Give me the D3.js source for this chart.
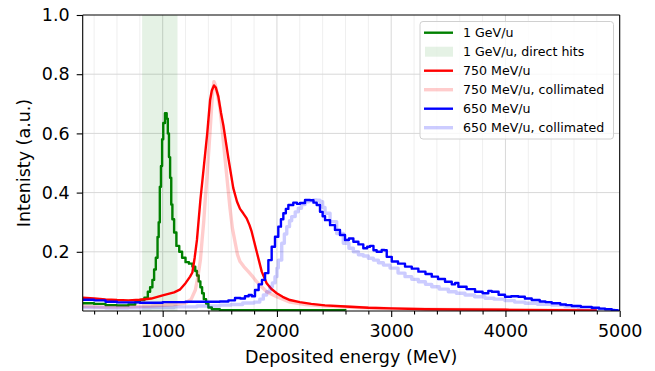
<!DOCTYPE html>
<html>
<head>
<meta charset="utf-8">
<script src="https://cdn.jsdelivr.net/npm/d3@7"></script>
<style>
  html, body { margin: 0; padding: 0; background: #fff; }
  svg { display: block; font-family: "DejaVu Sans", sans-serif; }
</style>
</head>
<body>
<svg id="chart" width="655" height="371"></svg>
<script>
// deposited energy spectra, [energy MeV, intensity a.u.]
const green1GeV = [[300,0.026],[400,0.024],[500,0.02],[600,0.019],[700,0.022],[760,0.03],[800,0.037],[840,0.045],[870,0.065],[890,0.08],[910,0.105],[925,0.14],[940,0.18],[955,0.25],[965,0.3],[975,0.42],[985,0.49],[995,0.58],[1005,0.635],[1020,0.668],[1035,0.65],[1045,0.6],[1055,0.52],[1065,0.45],[1075,0.36],[1085,0.31],[1100,0.265],[1120,0.22],[1145,0.2],[1170,0.18],[1200,0.165],[1230,0.16],[1260,0.15],[1285,0.135],[1300,0.12],[1315,0.1],[1330,0.08],[1345,0.06],[1360,0.04],[1380,0.025],[1400,0.012],[1430,0.006],[1500,0.003],[2600,0.002]];

const red750 = [[300,0.045],[400,0.042],[500,0.039],[600,0.037],[700,0.036],[800,0.038],[900,0.042],[1000,0.053],[1100,0.063],[1150,0.072],[1200,0.094],[1240,0.116],[1260,0.13],[1280,0.18],[1300,0.24],[1330,0.375],[1360,0.487],[1390,0.6],[1415,0.713],[1430,0.745],[1449,0.762],[1465,0.755],[1487,0.725],[1510,0.67],[1531,0.628],[1575,0.516],[1618,0.415],[1650,0.37],[1677,0.345],[1705,0.33],[1735,0.313],[1760,0.29],[1779,0.268],[1823,0.2],[1867,0.133],[1910,0.094],[1950,0.075],[1998,0.06],[2050,0.048],[2114,0.037],[2200,0.03],[2300,0.024],[2420,0.019],[2600,0.015],[2800,0.011],[3000,0.009],[3300,0.006],[3600,0.005],[4000,0.004],[4400,0.003],[4800,0.002]];

const red750Coll = [[300,0.016],[500,0.013],[700,0.014],[900,0.017],[1100,0.022],[1200,0.027],[1250,0.04],[1286,0.071],[1310,0.12],[1330,0.172],[1345,0.24],[1359,0.3],[1375,0.39],[1388,0.454],[1405,0.55],[1417,0.62],[1430,0.7],[1440,0.75],[1449,0.775],[1460,0.765],[1480,0.73],[1502,0.685],[1531,0.572],[1560,0.46],[1589,0.348],[1610,0.28],[1633,0.234],[1655,0.19],[1677,0.167],[1710,0.15],[1750,0.133],[1790,0.115],[1823,0.099],[1870,0.08],[1910,0.065],[1998,0.048],[2114,0.03],[2250,0.022],[2420,0.017],[2700,0.012],[3000,0.008],[3500,0.005],[4000,0.004],[4800,0.002]];

const blue650 = [[300,0.038],[400,0.036],[500,0.031],[600,0.029],[700,0.029],[800,0.028],[900,0.028],[1000,0.03],[1100,0.03],[1200,0.031],[1300,0.031],[1400,0.031],[1500,0.032],[1575,0.036],[1633,0.044],[1680,0.042],[1720,0.05],[1753,0.054],[1780,0.05],[1808,0.071],[1840,0.09],[1869,0.105],[1896,0.128],[1925,0.172],[1954,0.217],[1983,0.251],[2012,0.285],[2035,0.31],[2056,0.33],[2078,0.345],[2100,0.358],[2143,0.366],[2175,0.362],[2202,0.365],[2246,0.375],[2290,0.374],[2320,0.366],[2348,0.358],[2377,0.335],[2400,0.32],[2421,0.307],[2465,0.29],[2508,0.274],[2552,0.257],[2596,0.24],[2630,0.245],[2669,0.234],[2713,0.225],[2756,0.212],[2790,0.217],[2815,0.22],[2845,0.205],[2873,0.2],[2917,0.206],[2940,0.205],[2961,0.183],[3005,0.167],[3060,0.16],[3121,0.15],[3180,0.143],[3238,0.133],[3300,0.125],[3355,0.116],[3410,0.108],[3471,0.099],[3530,0.09],[3560,0.095],[3588,0.082],[3660,0.074],[3734,0.065],[3800,0.06],[3850,0.068],[3880,0.065],[3940,0.055],[3996,0.048],[4050,0.05],[4113,0.048],[4170,0.042],[4230,0.037],[4300,0.032],[4350,0.03],[4405,0.026],[4480,0.022],[4530,0.02],[4580,0.017],[4660,0.014],[4755,0.011],[4820,0.008],[4872,0.006],[4930,0.003],[4980,0.001],[5000,0]];

const blue650Coll = [[300,0.012],[500,0.01],[700,0.011],[900,0.012],[1100,0.014],[1300,0.017],[1500,0.02],[1600,0.022],[1700,0.027],[1800,0.03],[1850,0.04],[1881,0.054],[1910,0.065],[1939,0.082],[1960,0.095],[1983,0.116],[2000,0.145],[2012,0.172],[2042,0.229],[2065,0.26],[2086,0.285],[2110,0.305],[2129,0.319],[2160,0.335],[2187,0.347],[2215,0.36],[2246,0.369],[2280,0.372],[2319,0.375],[2350,0.374],[2377,0.369],[2400,0.35],[2421,0.33],[2465,0.302],[2523,0.262],[2581,0.229],[2630,0.212],[2669,0.2],[2713,0.19],[2756,0.186],[2800,0.178],[2844,0.172],[2888,0.163],[2932,0.155],[2990,0.145],[3060,0.128],[3121,0.116],[3180,0.107],[3238,0.099],[3300,0.09],[3355,0.082],[3420,0.074],[3500,0.065],[3570,0.06],[3646,0.054],[3730,0.048],[3821,0.043],[3900,0.04],[3996,0.035],[4080,0.03],[4171,0.026],[4280,0.023],[4405,0.02],[4520,0.015],[4638,0.011],[4760,0.007],[4872,0.004],[4950,0.001],[5000,0]];

// direct hit window for 1 GeV/u
const directHits = [820, 1130];

const xMajor = [1000, 2000, 3000, 4000, 5000];
const yMajor = [0.2, 0.4, 0.6, 0.8, 1.0];

const series = [
  { label: "1 GeV/u", data: green1GeV, color: "green", width: 2.4, opacity: 1, curve: d3.curveStepAfter },
  { label: "1 GeV/u, direct hits", band: directHits, color: "green", opacity: 0.1 },
  { label: "750 MeV/u", data: red750, color: "red", width: 2.4, opacity: 1, curve: d3.curveLinear },
  { label: "750 MeV/u, collimated", data: red750Coll, color: "red", width: 3.4, opacity: 0.2, curve: d3.curveLinear },
  { label: "650 MeV/u", data: blue650, color: "blue", width: 2.4, opacity: 1, curve: d3.curveStepAfter },
  { label: "650 MeV/u, collimated", data: blue650Coll, color: "blue", width: 3.4, opacity: 0.2, curve: d3.curveStepAfter }
];

const margin = { top: 15, right: 35.3, bottom: 60, left: 82.7 };
const width = 655 - margin.left - margin.right;
const plotH = 296;

const svg = d3.select("#chart");
const g = svg.append("g").attr("transform", "translate(" + margin.left + "," + margin.top + ")");

const x = d3.scaleLinear().domain([300, 5000]).range([0, width]);
const y = d3.scaleLinear().domain([0, 1]).range([plotH, 0]);

g.append("defs").append("clipPath").attr("id", "clip")
  .append("rect").attr("width", width).attr("height", plotH);

// grid
const xMinor = d3.range(400, 5000, 200).filter(v => v % 1000 != 0);
g.append("g").selectAll("line").data(xMinor).enter().append("line")
  .attr("x1", d => x(d)).attr("x2", d => x(d)).attr("y1", 0).attr("y2", plotH)
  .attr("stroke", "#efefef").attr("stroke-width", 1);
g.append("g").selectAll("line").data(xMajor.slice(0, 4)).enter().append("line")
  .attr("x1", d => x(d)).attr("x2", d => x(d)).attr("y1", 0).attr("y2", plotH)
  .attr("stroke", "#d8d8d8").attr("stroke-width", 1);
g.append("g").selectAll("line").data(yMajor.slice(0, 4)).enter().append("line")
  .attr("x1", 0).attr("x2", width).attr("y1", d => y(d)).attr("y2", d => y(d))
  .attr("stroke", "#d8d8d8").attr("stroke-width", 1);

const plot = g.append("g").attr("clip-path", "url(#clip)");

series.forEach(s => {
  if (s.band) {
    plot.append("rect")
      .attr("x", x(s.band[0])).attr("width", x(s.band[1]) - x(s.band[0]))
      .attr("y", 0).attr("height", plotH)
      .attr("fill", s.color).attr("fill-opacity", s.opacity);
    return;
  }
  const line = d3.line().x(d => x(d[0])).y(d => y(d[1])).curve(s.curve);
  plot.append("path").datum(s.data)
    .attr("d", line)
    .attr("fill", "none")
    .attr("stroke", s.color)
    .attr("stroke-opacity", s.opacity)
    .attr("stroke-width", s.width)
    .attr("stroke-linejoin", "round");
});

// axes
const xAxis = g.append("g").attr("transform", "translate(0," + plotH + ")")
  .call(d3.axisBottom(x).tickValues(xMajor).tickFormat(d3.format("d")).tickSize(6).tickPadding(8));
const xMinorAxis = g.append("g").attr("transform", "translate(0," + plotH + ")")
  .call(d3.axisBottom(x).tickValues(xMinor).tickFormat("").tickSize(3.5));
xMinorAxis.select(".domain").remove();
const yAxis = g.append("g")
  .call(d3.axisLeft(y).tickValues(yMajor).tickFormat(d3.format(".1f")).tickSize(6).tickPadding(7));

[xAxis, xMinorAxis, yAxis].forEach(a => {
  a.selectAll("text").attr("font-size", 17.5).attr("font-family", "DejaVu Sans").attr("fill", "#000");
  a.selectAll("line").attr("stroke", "#000").attr("stroke-width", 1.1);
  a.select(".domain").attr("stroke", "#000").attr("stroke-width", 1.1);
});
xAxis.select(".domain").attr("d", "M0,0H" + width);
yAxis.select(".domain").attr("d", "M0," + plotH + "V0");

// top and right spines
g.append("line").attr("x1", 0).attr("x2", width).attr("y1", 0).attr("y2", 0).attr("stroke", "#000").attr("stroke-width", 1.1);
g.append("line").attr("x1", width).attr("x2", width).attr("y1", 0).attr("y2", plotH).attr("stroke", "#000").attr("stroke-width", 1.1);

// labels
svg.append("text")
  .attr("x", margin.left + width / 2).attr("y", 363)
  .attr("text-anchor", "middle").attr("font-size", 17.5)
  .text("Deposited energy (MeV)");
svg.append("text")
  .attr("transform", "translate(30," + (margin.top + plotH / 2) + ") rotate(-90)")
  .attr("text-anchor", "middle").attr("font-size", 17.5)
  .text("Intenisty (a.u.)");

// legend
const legend = svg.append("g").attr("transform", "translate(420,21.5)");
legend.append("rect")
  .attr("width", 193.5).attr("height", 117.5).attr("rx", 3)
  .attr("fill", "#fff").attr("fill-opacity", 0.8)
  .attr("stroke", "#d0d0d0").attr("stroke-width", 1);

series.forEach((s, i) => {
  const row = legend.append("g").attr("transform", "translate(0," + (11.2 + i * 19) + ")");
  if (s.band) {
    row.append("rect").attr("x", 5).attr("y", -5).attr("width", 28).attr("height", 10)
      .attr("fill", s.color).attr("fill-opacity", s.opacity);
  } else {
    row.append("line").attr("x1", 4).attr("x2", 33).attr("y1", 0).attr("y2", 0)
      .attr("stroke", s.color).attr("stroke-opacity", s.opacity).attr("stroke-width", s.width);
  }
  row.append("text").attr("x", 43).attr("y", 4.5)
    .attr("font-size", 12.6).text(s.label);
});
</script>
</body>
</html>
